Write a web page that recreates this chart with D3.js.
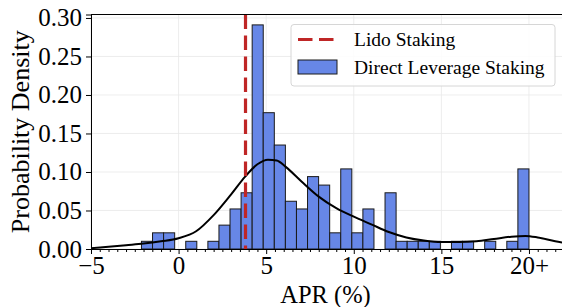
<!DOCTYPE html>
<html>
<head>
<meta charset="utf-8">
<script src="https://cdn.jsdelivr.net/npm/d3@7"></script>
<style>
  body { margin: 0; background: #fff; }
  svg text { font-family: "Liberation Serif", "Times New Roman", serif; fill: #000; }
</style>
</head>
<body>
<div id="chart"></div>
<script>
// histogram of leverage staking APR (density per bin), bins run from binLo to binHi
var binLo = -2.12;
var binHi = 20;
var binDensity = [0.010, 0.021, 0.021, 0, 0.010, 0, 0.010, 0.031, 0.052, 0.073,
                  0.291, 0.177, 0.135, 0.062, 0.052, 0.094, 0.083, 0.021, 0.104, 0.021,
                  0.052, 0, 0.073, 0.010, 0.010, 0.010, 0.010, 0, 0.010, 0.010,
                  0, 0.010, 0, 0.010, 0.104];

// KDE curve
var kdeX = [-5, -4, -3, -2, -1, 0, 1, 2, 3, 3.8, 4.5, 5.1, 5.6, 6.1, 7, 8, 9, 10, 11, 12,
            13, 14, 15, 16, 17, 18, 19, 19.8, 20.5, 21.5, 22];
var kdeY = [0.001, 0.003, 0.005, 0.007, 0.010, 0.014, 0.023, 0.044, 0.071, 0.094, 0.110, 0.116,
            0.115, 0.107, 0.088, 0.068, 0.053, 0.042, 0.032, 0.022, 0.015, 0.011, 0.009, 0.009,
            0.010, 0.013, 0.016, 0.017, 0.015, 0.010, 0.008];

// Lido staking reference APR
var lidoAPR = 3.82;

var xTicks = [-5, 0, 5, 10, 15, 20];
var xTickLabels = ["\u22125", "0", "5", "10", "15", "20+"];
var yTicks = [0, 0.05, 0.10, 0.15, 0.20, 0.25, 0.30];

var width = 562, height = 307;
var plotL = 91, plotR = 564, plotT = 14.5, plotB = 249;

var svg = d3.select("#chart")
  .append("svg")
  .attr("width", width)
  .attr("height", height);

var x = d3.scaleLinear().domain([-5, 22]).range([plotL, plotR]);
var y = d3.scaleLinear().domain([0, 0.3045]).range([plotB, plotT]);

svg.append("clipPath").attr("id", "plotclip")
  .append("rect").attr("x", plotL).attr("y", plotT)
  .attr("width", plotR - plotL).attr("height", plotB - plotT);

//grid lines
var grid = svg.append("g").attr("class", "grid");
grid.selectAll(".gx").data(xTicks).enter().append("line")
  .attr("x1", d => x(d)).attr("x2", d => x(d))
  .attr("y1", plotT).attr("y2", plotB)
  .attr("stroke", "#e9e9e9").attr("stroke-width", 0.8);
grid.selectAll(".gy").data(yTicks).enter().append("line")
  .attr("x1", plotL).attr("x2", plotR)
  .attr("y1", d => y(d)).attr("y2", d => y(d))
  .attr("stroke", "#e9e9e9").attr("stroke-width", 0.8);

//bars
var binW = (binHi - binLo) / binDensity.length;
var bins = binDensity.map((d, i) => ({x0: binLo + i * binW, x1: binLo + (i + 1) * binW, v: d}));

svg.append("g").attr("clip-path", "url(#plotclip)")
  .selectAll("rect").data(bins.filter(b => b.v > 0)).enter().append("rect")
  .attr("x", d => x(d.x0))
  .attr("width", d => x(d.x1) - x(d.x0))
  .attr("y", d => y(d.v))
  .attr("height", d => y(0) - y(d.v))
  .attr("fill", "#6787e7")
  .attr("stroke", "#1a1a1a")
  .attr("stroke-width", 1);

//kde line
var line = d3.line()
  .x((d, i) => x(kdeX[i]))
  .y(d => y(d))
  .curve(d3.curveMonotoneX);

svg.append("path")
  .attr("clip-path", "url(#plotclip)")
  .attr("d", line(kdeY))
  .attr("fill", "none")
  .attr("stroke", "#000")
  .attr("stroke-width", 2);

//lido line
svg.append("line")
  .attr("x1", x(lidoAPR)).attr("x2", x(lidoAPR))
  .attr("y1", plotT).attr("y2", plotB)
  .attr("stroke", "#bf2626")
  .attr("stroke-width", 3.2)
  .attr("stroke-dasharray", "14.5,6.5");

//axes
svg.append("g")
  .attr("transform", "translate(0," + plotB + ")")
  .call(d3.axisBottom(x).tickValues(xTicks).tickSize(5).tickPadding(2)
        .tickFormat((d, i) => xTickLabels[i]));

var minor = d3.range(-5, 22.01, 0.5).filter(v => xTicks.indexOf(v) < 0);
svg.append("g")
  .attr("transform", "translate(0," + plotB + ")")
  .call(d3.axisBottom(x).tickValues(minor).tickSize(3).tickFormat(""))
  .call(g => g.select(".domain").remove());

svg.append("g")
  .attr("transform", "translate(" + plotL + ",0)")
  .call(d3.axisLeft(y).tickValues(yTicks).tickSize(5).tickPadding(4)
        .tickFormat(d3.format(".2f")));

svg.selectAll(".tick text").style("font-size", "25px");
svg.selectAll(".domain").attr("stroke", "#000").attr("stroke-width", 1);

//top spine
svg.append("line")
  .attr("x1", plotL).attr("x2", plotR)
  .attr("y1", plotT).attr("y2", plotT)
  .attr("stroke", "#000").attr("stroke-width", 1);

//axis labels
svg.append("text")
  .attr("x", (plotL + plotR) / 2 - 2)
  .attr("y", 303)
  .attr("text-anchor", "middle")
  .style("font-size", "24.5px")
  .text("APR (%)");

svg.append("text")
  .attr("transform", "translate(29," + ((plotT + plotB) / 2) + ")rotate(-90)")
  .attr("text-anchor", "middle")
  .style("font-size", "26px")
  .text("Probability Density");

//legend
var legend = svg.append("g").attr("class", "legend");
legend.append("rect")
  .attr("x", 291).attr("y", 24.5)
  .attr("width", 264).attr("height", 61.5)
  .attr("rx", 3)
  .attr("fill", "#fff").attr("fill-opacity", 0.85)
  .attr("stroke", "#d6d6d6").attr("stroke-width", 1);

legend.append("line")
  .attr("x1", 298).attr("x2", 337)
  .attr("y1", 39.5).attr("y2", 39.5)
  .attr("stroke", "#bf2626")
  .attr("stroke-width", 3.2)
  .attr("stroke-dasharray", "14.5,6.5");

legend.append("rect")
  .attr("x", 298).attr("y", 60)
  .attr("width", 39).attr("height", 14)
  .attr("fill", "#6787e7")
  .attr("stroke", "#1a1a1a").attr("stroke-width", 1);

legend.append("text")
  .attr("x", 354).attr("y", 46)
  .style("font-size", "19.5px")
  .text("Lido Staking");

legend.append("text")
  .attr("x", 354).attr("y", 73.5)
  .style("font-size", "19.5px")
  .text("Direct Leverage Staking");
</script>
</body>
</html>
